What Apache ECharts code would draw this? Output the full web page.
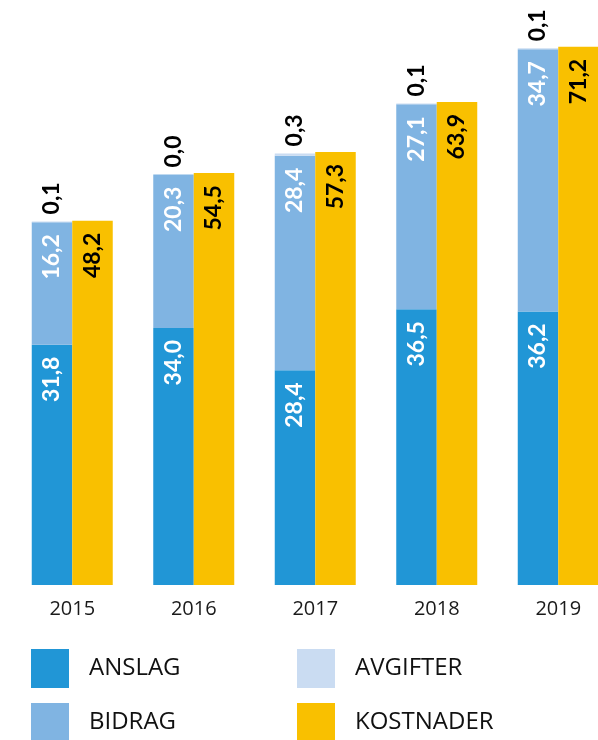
<!DOCTYPE html>
<html lang="sv">
<head>
	<meta charset="UTF-8">
	<title>Anslag, bidrag, avgifter och kostnader</title>
	<style>
		html, body { margin: 0; padding: 0; background: #fff; overflow: hidden; }
		/* diagrammet är lite bredare än fönstret, sista stapeln skärs av i kanten */
		#main { width: 620px; height: 740px; }
	</style>
</head>
<body>
	<div id="main"></div>
	<script src="https://cdn.jsdelivr.net/npm/echarts@6/dist/echarts.min.js"></script>
	<script>
		var years = ['2015', '2016', '2017', '2018', '2019'];
		var anslag = [31.8, 34.0, 28.4, 36.5, 36.2];
		var bidrag = [16.2, 20.3, 28.4, 27.1, 34.7];
		var avgifter = [0.1, 0.0, 0.3, 0.1, 0.1];
		var kostnader = [48.2, 54.5, 57.3, 63.9, 71.2];

		function fmt(p) {
			return p.value.toFixed(1).replace('.', ',');
		}

		// etikett inne i stapeln, roterad, läses nerifrån och upp
		function insideLabel(color) {
			return {
				show: true,
				position: 'insideTop',
				distance: 12,
				rotate: 90,
				align: 'right',
				verticalAlign: 'middle',
				color: color,
				fontFamily: 'Lato',
				fontWeight: 'bold',
				fontSize: 23,
				formatter: fmt
			};
		}

		var legendText = {
			fontFamily: 'Open Sans',
			fontSize: 24,
			color: '#111',
			padding: [0, 0, 0, 15]
		};

		function legendBox(left, names) {
			return {
				orient: 'vertical',
				left: left,
				top: 649,
				height: 120,
				padding: 0,
				itemWidth: 38,
				itemHeight: 39,
				itemGap: 15,
				icon: 'rect',
				selectedMode: false,
				textStyle: legendText,
				data: names
			};
		}

		var myChart = echarts.init(document.getElementById('main'));
		var option = {
			animation: false,
			grid: {
				left: 11.5,
				right: 1,
				top: 0,
				bottom: 155
			},
			legend: [
				legendBox(31, ['ANSLAG', 'BIDRAG']),
				legendBox(297, ['AVGIFTER', 'KOSTNADER'])
			],
			xAxis: {
				type: 'category',
				data: years,
				axisLine: { show: false },
				axisTick: { show: false },
				axisLabel: {
					margin: 14,
					fontFamily: 'Open Sans',
					fontSize: 20,
					color: '#1a1a1a'
				}
			},
			yAxis: {
				type: 'value',
				min: 0,
				max: 77.4,
				show: false,
				splitLine: { show: false }
			},
			series: [
				{
					name: 'ANSLAG',
					type: 'bar',
					stack: 'intakter',
					barWidth: 40.5,
					barGap: '0%',
					itemStyle: { color: '#2196D6' },
					label: insideLabel('#fff'),
					data: anslag
				},
				{
					name: 'BIDRAG',
					type: 'bar',
					stack: 'intakter',
					barWidth: 40.5,
					itemStyle: { color: '#80B4E2' },
					label: insideLabel('#fff'),
					data: bidrag
				},
				{
					name: 'AVGIFTER',
					type: 'bar',
					stack: 'intakter',
					barWidth: 40.5,
					itemStyle: { color: '#CADCF2' },
					label: {
						show: true,
						position: 'top',
						distance: 7,
						rotate: 90,
						align: 'left',
						verticalAlign: 'middle',
						color: '#000',
						fontFamily: 'Lato',
						fontWeight: 'bold',
						fontSize: 23,
						formatter: fmt
					},
					data: avgifter
				},
				{
					name: 'KOSTNADER',
					type: 'bar',
					barWidth: 40.5,
					barGap: '0%',
					itemStyle: { color: '#F9C000' },
					label: insideLabel('#000'),
					data: kostnader
				}
			]
		};

		myChart.setOption(option);
	</script>
</body>
</html>
